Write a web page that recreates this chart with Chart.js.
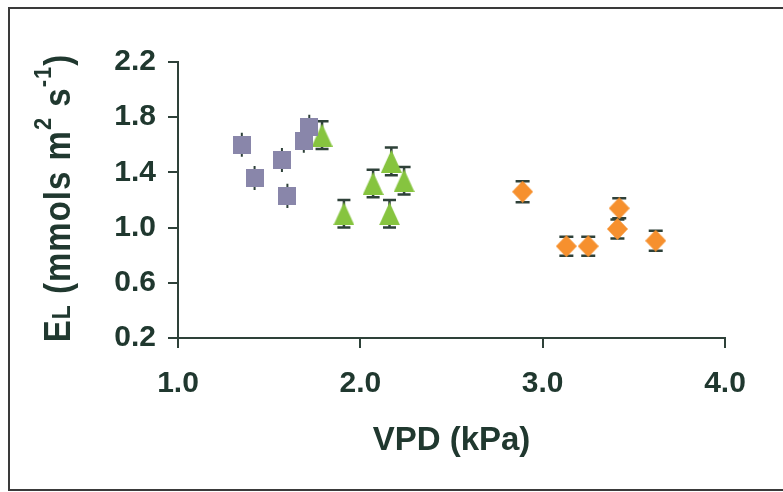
<!DOCTYPE html>
<html>
<head>
<meta charset="utf-8">
<script src="https://cdn.jsdelivr.net/npm/chart.js@4"></script>
<style>
  html, body { margin: 0; padding: 0; background: #fff; }
  #wrap { width: 783px; height: 492px; }
</style>
</head>
<body>
<div id="wrap"><canvas id="chart" width="783" height="492"></canvas></div>
<script>
// ── Data ──────────────────────────────────────────────────────────────────────

const xTicks = [1.0, 2.0, 3.0, 4.0];
const yTicks = [0.2, 0.6, 1.0, 1.4, 1.8, 2.2];

const squareX   = [1.35, 1.42, 1.57, 1.60, 1.69, 1.72];
const squareY   = [1.60, 1.36, 1.49, 1.23, 1.63, 1.73];
const squareErr = [0.08, 0.08, 0.08, 0.08, 0.08, 0.08];

const triX   = [1.79, 2.17, 2.07, 2.24, 1.91, 2.16];
const triY   = [1.67, 1.48, 1.32, 1.34, 1.10, 1.10];
const triErr = [0.10, 0.10, 0.10, 0.10, 0.10, 0.10];

const diaX   = [2.89, 3.13, 3.25, 3.42, 3.41, 3.62];
const diaY   = [1.26, 0.865, 0.865, 1.14, 0.99, 0.905];
const diaErr = [0.076, 0.069, 0.069, 0.073, 0.069, 0.073];

const xTitle = 'VPD (kPa)';
// y title pieces: [text, font size, rise above baseline]
const yTitleParts = [
  ['E', 33, 0],
  ['L', 23, 0],
  [' (mmols m', 33, 0],
  ['2', 22, 17],
  [' s', 33, 0],
  ['-1', 22, 17],
  [')', 33, 0],
];

// ── Styles ────────────────────────────────────────────────────────────────────

const FONT = '"Liberation Sans", Arial, sans-serif';
const TEXT = '#20382f';
const AXIS = '#2e4139';

function makeMarker(w, h, color, path) {
  const c = document.createElement('canvas');
  c.width = w; c.height = h;
  const g = c.getContext('2d');
  g.fillStyle = color;
  g.beginPath();
  path(g, w, h);
  g.closePath();
  g.fill();
  return c;
}

const squareImg = makeMarker(18, 18, '#8986aa', (g, w, h) => g.rect(0, 0, w, h));
const triImg = makeMarker(21, 23, '#86c43f', (g, w, h) => {
  g.moveTo(w / 2, 0); g.lineTo(w, h); g.lineTo(0, h);
});
const diaImg = makeMarker(21, 22, '#f6902e', (g, w, h) => {
  g.moveTo(w / 2, 0); g.lineTo(w, h / 2); g.lineTo(w / 2, h); g.lineTo(0, h / 2);
});

const pts = (xs, ys) => xs.map((x, i) => ({ x, y: ys[i] }));

// ── Plugins ───────────────────────────────────────────────────────────────────

const frame = {
  id: 'frame',
  beforeDraw(chart) {
    const ctx = chart.ctx;
    ctx.save();
    ctx.strokeStyle = '#3a3a3a';
    ctx.lineWidth = 2;
    ctx.beginPath();
    ctx.moveTo(783, 8); ctx.lineTo(9, 8); ctx.lineTo(9, 490); ctx.lineTo(783, 490);
    ctx.stroke();
    ctx.restore();
  }
};

const errorBars = {
  id: 'errorBars',
  beforeDatasetsDraw(chart) {
    const { ctx, scales: { x, y } } = chart;
    ctx.save();
    ctx.strokeStyle = AXIS;
    chart.data.datasets.forEach(ds => {
      ctx.lineWidth = ds.barWidth;
      ds.data.forEach((p, i) => {
        const px = x.getPixelForValue(p.x);
        const top = y.getPixelForValue(p.y + ds.errors[i]);
        const bot = y.getPixelForValue(p.y - ds.errors[i]);
        const half = ds.capHalf;
        ctx.beginPath();
        ctx.moveTo(px, top); ctx.lineTo(px, bot);
        ctx.moveTo(px - half, top); ctx.lineTo(px + half, top);
        ctx.moveTo(px - half, bot); ctx.lineTo(px + half, bot);
        ctx.stroke();
      });
    });
    ctx.restore();
  }
};

const yTitle = {
  id: 'yTitle',
  afterDraw(chart) {
    const ctx = chart.ctx;
    ctx.save();
    ctx.letterSpacing = '1px';
    let total = 0;
    const widths = yTitleParts.map(([t, size]) => {
      ctx.font = `bold ${size}px ${FONT}`;
      const w = ctx.measureText(t).width;
      total += w;
      return w;
    });
    ctx.translate(70, 198);
    ctx.rotate(-Math.PI / 2);
    ctx.scale(1, 1.12);
    ctx.fillStyle = TEXT;
    ctx.textBaseline = 'alphabetic';
    let pos = -total / 2;
    yTitleParts.forEach(([t, size, rise], i) => {
      ctx.font = `bold ${size}px ${FONT}`;
      ctx.fillText(t, pos, -rise);
      pos += widths[i];
    });
    ctx.restore();
  }
};

// ── Chart ─────────────────────────────────────────────────────────────────────

const axisGrid = { drawOnChartArea: false, drawTicks: true, tickLength: 10, color: AXIS, lineWidth: 2, tickWidth: 2 };

new Chart(document.getElementById('chart').getContext('2d'), {
  type: 'scatter',
  data: {
    datasets: [
      { data: pts(squareX, squareY), errors: squareErr, capHalf: 1, barWidth: 2, pointStyle: squareImg },
      { data: pts(triX, triY), errors: triErr, capHalf: 6.5, barWidth: 2.5, pointStyle: triImg },
      { data: pts(diaX, diaY), errors: diaErr, capHalf: 7, barWidth: 2.5, pointStyle: diaImg },
    ]
  },
  options: {
    responsive: false,
    animation: false,
    events: [],
    layout: { padding: { top: 62, right: 58, bottom: 0, left: 0 } },
    plugins: { legend: { display: false }, tooltip: { enabled: false } },
    scales: {
      x: {
        type: 'linear',
        min: 1, max: 4,
        afterBuildTicks: s => { s.ticks = xTicks.map(value => ({ value })); },
        afterFit: s => { s.height = 154; },
        ticks: { callback: v => v.toFixed(1), font: { family: FONT, size: 30, weight: 'bold' }, color: TEXT, padding: 18, maxRotation: 0 },
        grid: axisGrid,
        border: { color: AXIS, width: 2 },
        title: { display: true, text: xTitle, color: TEXT, font: { family: FONT, size: 33, weight: 'bold' }, padding: { top: 0, bottom: 31 } }
      },
      y: {
        type: 'linear',
        min: 0.2, max: 2.2,
        afterBuildTicks: s => { s.ticks = yTicks.map(value => ({ value })); },
        afterFit: s => { s.width = 178; },
        ticks: { callback: v => v.toFixed(1), font: { family: FONT, size: 30, weight: 'bold' }, color: TEXT, padding: 12 },
        grid: axisGrid,
        border: { color: AXIS, width: 2 }
      }
    }
  },
  plugins: [frame, errorBars, yTitle]
});
</script>
</body>
</html>
